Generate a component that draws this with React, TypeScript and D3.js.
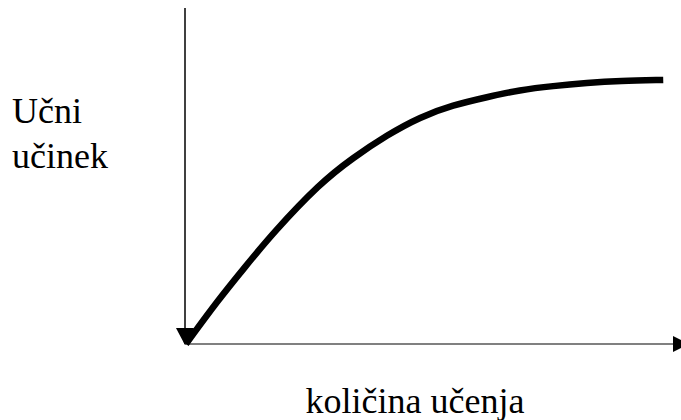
import React, { useEffect, useRef } from "react";
import * as d3 from "d3";

// learning curve (x: amount of learning, y: learning effect, 0-100)
const amount = [0.2, 6.8, 12.3, 18.0, 27.7, 34.4, 41.4, 48.2, 54.9, 61.9, 68.6, 75.4, 82.4, 89.1, 98.0];
const effect = [0, 13.1, 22.9, 33.0, 47.9, 55.4, 62.2, 67.6, 71.1, 73.5, 75.6, 76.8, 77.7, 78.3, 78.6];

const yLabelLines = ["Učni", "učinek"];
const xLabel = "količina učenja";

export default function App() {
  const svgRef = useRef<SVGSVGElement | null>(null);

  useEffect(() => {
    const width = 681;
    const height = 420;

    d3.select(svgRef.current).selectAll("*").remove();
    const svg = d3.select(svgRef.current).attr("width", width).attr("height", height);

    const x = d3.scaleLinear().domain([0, 100]).range([185, 673]);
    const y = d3.scaleLinear().domain([0, 100]).range([344, 8]);

    const font = "Liberation Serif, DejaVu Serif, serif";

    // y axis
    svg
      .append("line")
      .attr("x1", x(0))
      .attr("x2", x(0))
      .attr("y1", y(100))
      .attr("y2", y(0))
      .attr("stroke", "#000")
      .attr("stroke-width", 1.5);

    // x axis with arrow
    svg
      .append("line")
      .attr("x1", x(0))
      .attr("x2", x(100))
      .attr("y1", y(0))
      .attr("y2", y(0))
      .attr("stroke", "#808080")
      .attr("stroke-width", 2);

    svg
      .append("path")
      .attr("d", `M${x(100)},${y(0) - 8} L${x(100) + 16},${y(0)} L${x(100)},${y(0) + 8} Z`)
      .attr("fill", "#000");

    // curve
    const data = amount.map((a, i) => ({ a, e: effect[i] }));
    const line = d3
      .line<{ a: number; e: number }>()
      .x((d) => x(d.a))
      .y((d) => y(d.e))
      .curve(d3.curveBasis);

    svg
      .append("path")
      .datum(data)
      .attr("d", line)
      .attr("fill", "none")
      .attr("stroke", "#000")
      .attr("stroke-width", 6.5);

    // start marker
    const sx = x(amount[0]);
    const sy = y(effect[0]);
    svg
      .append("path")
      .attr("d", `M${sx - 10},${sy - 16} L${sx + 8},${sy - 16} L${sx - 1},${sy + 1} Z`)
      .attr("fill", "#000");

    // labels
    svg
      .selectAll("text.ylab")
      .data(yLabelLines)
      .enter()
      .append("text")
      .attr("class", "ylab")
      .attr("x", 12)
      .attr("y", (d, i) => 123 + i * 45)
      .attr("font-family", font)
      .attr("font-size", 36)
      .text((d) => d);

    svg
      .append("text")
      .attr("x", 415)
      .attr("y", 413)
      .attr("text-anchor", "middle")
      .attr("font-family", font)
      .attr("font-size", 36)
      .text(xLabel);
  }, []);

  return (
    <svg
      ref={svgRef}
      style={{ position: "absolute", left: 0, top: 0, display: "block" }}
    ></svg>
  );
}
